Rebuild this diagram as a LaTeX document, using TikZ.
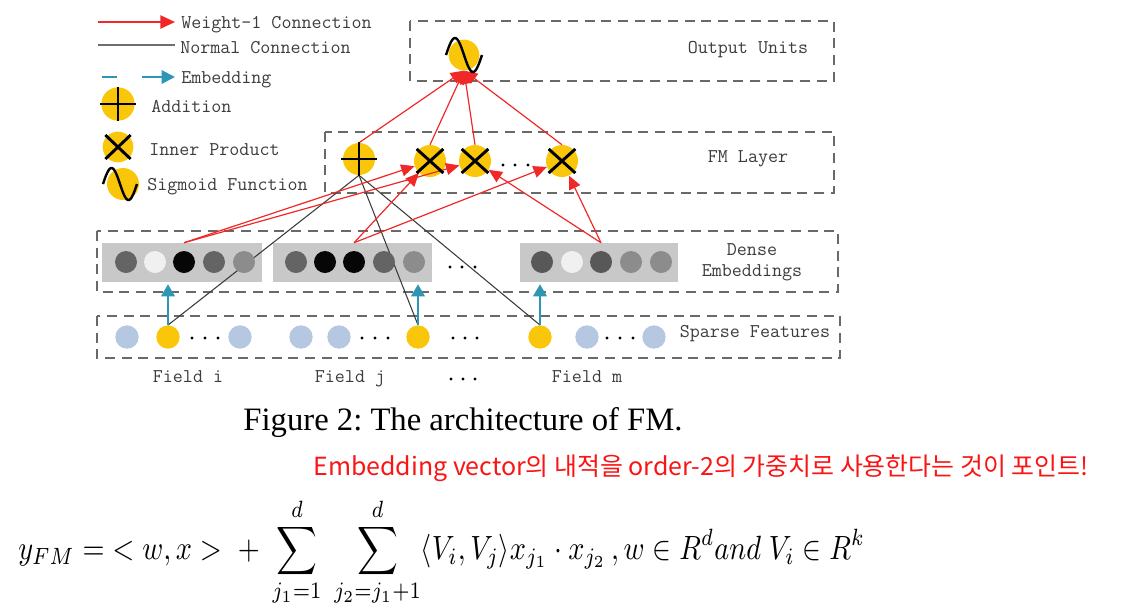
\documentclass[tikz,border=0pt]{standalone}
\usepackage{fontspec}
\usepackage{amsmath}
\usepackage{graphicx}
\usetikzlibrary{arrows.meta}
\newfontfamily\capfont{Liberation Serif}
\newfontfamily\krfont{Noto Sans CJK KR}
\definecolor{wred}{RGB}{240,40,40}
\definecolor{txtgray}{RGB}{60,60,60}
\definecolor{boxgray}{RGB}{105,105,105}
\definecolor{fmyellow}{RGB}{250,198,10}
\definecolor{lblue}{RGB}{182,200,225}
\definecolor{eblue}{RGB}{45,150,180}
\definecolor{embbg}{RGB}{200,200,200}
\definecolor{ngray}{RGB}{60,60,60}
\definecolor{lgray}{RGB}{110,110,110}
\definecolor{kred}{RGB}{250,20,20}
\definecolor{eg1}{RGB}{100,100,100}
\definecolor{eg2}{RGB}{240,240,240}
\definecolor{eg3}{RGB}{6,6,6}
\definecolor{eg4}{RGB}{140,140,140}
\definecolor{eg5}{RGB}{88,88,88}
\begin{document}
\begin{tikzpicture}[x=0.75pt,y=-0.75pt,
  lbl/.style={font=\ttfamily\fontsize{14.6}{17}\selectfont, text=txtgray, inner sep=0pt},
  layerbox/.style={draw=boxgray, line width=2.2pt, dash pattern=on 7.5pt off 5pt},
  ycirc/.style={circle, fill=fmyellow, inner sep=0pt, minimum size=24pt},
  embc/.style={circle, inner sep=0pt, minimum size=16.5pt, fill=#1},
  spc/.style={circle, inner sep=0pt, minimum size=17.5pt, fill=#1},
  embbox/.style={rectangle, fill=embbg, inner sep=0pt, minimum height=29.25pt},
  wone/.style={draw=wred, line width=0.9pt, -{Triangle[length=10pt,width=9pt]}},
  normal/.style={draw=ngray, line width=0.8pt},
  embarrow/.style={draw=eblue, line width=1.9pt, -{Triangle[length=9pt,width=10pt]}},
  sym/.style={draw=black, line width=2.2pt},
  dotc/.style={fill=black}
]
\useasboundingbox (0,0) rectangle (1123,612);

% ---------- layer boxes ----------
\draw[layerbox] (410,21) rectangle (834,81);
\draw[layerbox] (325,132) rectangle (834,193);
\draw[layerbox] (97,231) rectangle (838,292);
\draw[layerbox] (97,316) rectangle (840,358);

\node[lbl] (tout) at (748,50) {Output Units};
\node[lbl] (tfm) at (748,159) {FM Layer};
\node[lbl, align=center] (tdense) at (752,262) {Dense\\[-1pt]Embeddings};
\node[lbl] (tsparse) at (755,334) {Sparse Features};
\node[lbl, anchor=base] (fi) at (188,382) {Field i};
\node[lbl, anchor=base] (fj) at (350,382) {Field j};
\node[lbl, anchor=base] (fm) at (587,382) {Field m};
\foreach \x in {451,463,475} \fill[dotc] (\x,379) circle (1.7);

% ---------- dense embeddings ----------
\node[embbox, minimum width=120pt] (g1box) at (182,262.5) {};
\node[embbox, minimum width=119.25pt] (g2box) at (352.5,262.5) {};
\node[embbox, minimum width=118.5pt] (g3box) at (599,262.5) {};
\foreach \x in {450,462,475} \fill[dotc] (\x,267) circle (1.7);

% ---------- FM layer nodes ----------
\node[ycirc] (add) at (359,159) {};
\node[ycirc] (ip1) at (430,161) {};
\node[ycirc] (ip2) at (475,161) {};
\node[ycirc] (ip4) at (562,161) {};
\foreach \x in {503,515,528} \fill[dotc] (\x,165) circle (1.7);
\node[ycirc, minimum size=23pt] (out) at (464,55) {};

% ---------- sparse features ----------
\node[spc=lblue] (s1) at (127,337) {};
\node[spc=fmyellow] (yi) at (168,337) {};
\node[spc=lblue] (s3) at (240,337) {};
\node[spc=lblue] (s4) at (301,337) {};
\node[spc=lblue] (s5) at (339,337) {};
\node[spc=fmyellow] (yj) at (418,337) {};
\node[spc=fmyellow] (ym) at (540,337) {};
\node[spc=lblue] (s8) at (587,337) {};
\node[spc=lblue] (s9) at (654,337) {};
\foreach \x in {192,205,218,362,375,388,453,465,477,607,620,633} \fill[dotc] (\x,338) circle (1.7);

% ---------- normal connections (under circles) ----------
\draw[normal] (add.south) -- (yi.north);
\draw[normal] (add.south) -- (yj.north);
\draw[normal] (add.south) -- (ym.north);

% ---------- dense circles ----------
\node[embc=eg1] (g1c1) at (126,262) {};
\node[embc=eg2] (g1c2) at (155,262) {};
\node[embc=eg3] (g1c3) at (184,262) {};
\node[embc=eg1] (g1c4) at (214,262) {};
\node[embc=eg4] (g1c5) at (244,262) {};
\node[embc=eg1] (g2c1) at (296,262) {};
\node[embc=eg3] (g2c2) at (325,262) {};
\node[embc=eg3] (g2c3) at (354,262) {};
\node[embc=eg1] (g2c4) at (384,262) {};
\node[embc=eg4] (g2c5) at (414,262) {};
\node[embc=eg5] (g3c1) at (542,262) {};
\node[embc=eg2] (g3c2) at (572,262) {};
\node[embc=eg5] (g3c3) at (601,262) {};
\node[embc=eg4] (g3c4) at (631,262) {};
\node[embc=eg4] (g3c5) at (661,262) {};

% ---------- embedding arrows ----------
\draw[embarrow] (yi.north) -- ([yshift=-1.5pt]yi.north |- g1box.south);
\draw[embarrow] (yj.north) -- ([yshift=-1.5pt]yj.north |- g2box.south);
\draw[embarrow] (ym.north) -- ([yshift=-1.5pt]ym.north |- g3box.south);

% ---------- weight-1 connections ----------
\draw[wone] ([yshift=6pt]g1c3.north) -- (ip1);
\draw[wone] ([yshift=6pt]g1c3.north) -- (ip2);
\draw[wone] ([yshift=6pt]g2c3.north) -- (ip1);
\draw[wone] ([yshift=6pt]g2c3.north) -- (ip4);
\draw[wone] ([yshift=6pt]g3c3.north) -- (ip2);
\draw[wone] ([yshift=6pt]g3c3.north) -- (ip4);
\draw[wone] (add.north) -- (out.south);
\draw[wone] (ip1.north) -- (out.south);
\draw[wone] (ip2.north) -- (out.south);
\draw[wone] (ip4.north) -- (out.south);

% ---------- symbols ----------
\draw[sym] ([xshift=-13.5pt]add.center) -- ([xshift=13.5pt]add.center);
\draw[sym] ([yshift=12.5pt]add.center) -- ([yshift=-12.5pt]add.center);
\foreach \n in {ip1,ip2,ip4}{
  \draw[sym] ([xshift=-10pt,yshift=9pt]\n.center) -- ([xshift=10pt,yshift=-9pt]\n.center);
  \draw[sym] ([xshift=-10pt,yshift=-9pt]\n.center) -- ([xshift=10pt,yshift=9pt]\n.center);
}
\draw[sym, line width=1.8pt, shift={(out.center)}] plot[domain=0:360, samples=50, smooth] ({-18+\x*36/360},{-17*sin(\x)});

% ---------- legend ----------
\coordinate (la1) at (98,22);  \coordinate (lb1) at (175,22);
\coordinate (la2) at (98,45);  \coordinate (lb2) at (175,45);
\coordinate (la3) at (102,77); \coordinate (lb3) at (175,77);
\coordinate (la4) at (117,77);
\coordinate (la5) at (142,77);
\draw[draw=wred, line width=1.1pt, -{Triangle[length=11pt,width=10pt]}] (la1) -- (lb1);
\draw[draw=lgray, line width=1.6pt] (la2) -- (lb2);
\draw[draw=eblue, line width=1.6pt] (la3) -- (la4);
\draw[draw=eblue, line width=1.6pt, -{Triangle[length=10pt,width=10pt]}] (la5) -- (lb3);
\node[lbl, anchor=base west] (l1) at (181,28) {Weight-1 Connection};
\node[lbl, anchor=base west] (l2) at (180,53) {Normal Connection};
\node[lbl, anchor=base west] (l3) at (181,83) {Embedding};

\node[ycirc, minimum size=25pt] (ladd) at (118,104) {};
\draw[sym] ([xshift=-13.5pt]ladd.center) -- ([xshift=13.5pt]ladd.center);
\draw[sym] ([yshift=13pt]ladd.center) -- ([yshift=-13pt]ladd.center);
\node[lbl, anchor=base west] (l4) at (151,112) {Addition};

\node[ycirc, minimum size=23pt] (lip) at (118,147) {};
\draw[sym] ([xshift=-9.5pt,yshift=9pt]lip.center) -- ([xshift=9.5pt,yshift=-9pt]lip.center);
\draw[sym] ([xshift=-9.5pt,yshift=-9pt]lip.center) -- ([xshift=9.5pt,yshift=9pt]lip.center);
\node[lbl, anchor=base west] (l5) at (149,155) {Inner Product};

\node[ycirc, minimum size=24pt] (lsig) at (123,184) {};
\draw[sym, line width=1.8pt, shift={(120,184)}] plot[domain=0:360, samples=50, smooth] ({-17+\x*34/360},{-16*sin(\x)});
\node[lbl, anchor=base west] (l6) at (147,190) {Sigmoid Function};

% ---------- caption, note, formula ----------
\node[font=\capfont\fontsize{24.5}{28}\selectfont, anchor=base, inner sep=0pt] (cap) at (463,430) {Figure 2:\ The architecture of FM.};
\node[font=\krfont\fontsize{18.7}{22}\selectfont, text=kred, inner sep=0pt] (note) at (701,468) {Embedding vector의 내적을 order-2의 가중치로 사용한다는 것이 포인트!};
\node[anchor=west, inner sep=0pt] (eq) at (18,552) {\resizebox*{635pt}{82pt}{$\displaystyle y_{FM} = \;<w, x>\; +\; \sum_{j_1=1}^{d}\;\sum_{j_2=j_1+1}^{d} \langle V_i, V_j\rangle x_{j_1}\cdot x_{j_2}\,, w \in R^{d} and\; V_i \in R^{k}$}};
\end{tikzpicture}
\end{document}
